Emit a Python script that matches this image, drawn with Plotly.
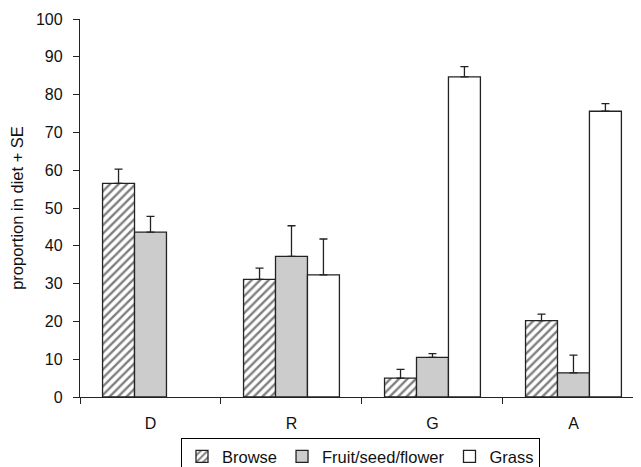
import plotly.graph_objects as go

categories = ["D", "R", "G", "A"]
browse = [56.5, 31.1, 5.0, 20.2]
browse_se = [3.8, 3.0, 2.3, 1.7]
fruit = [43.6, 37.2, 10.5, 6.4]
fruit_se = [4.2, 8.1, 1.0, 4.7]
grass = [None, 32.3, 84.7, 75.6]
grass_se = [None, 9.5, 2.7, 2.0]
y_ticks = list(range(0, 101, 10))

xpos = list(range(len(categories)))
line_col = "#222222"
font_fam = "Liberation Sans, Arial, Helvetica, sans-serif"

def err(vals):
    return dict(type="data", symmetric=False, array=vals,
                arrayminus=[0 if v is not None else None for v in vals],
                color=line_col, thickness=1.3, width=4)

fig = go.Figure()
fig.add_trace(go.Bar(
    name="Browse", x=xpos, y=browse, error_y=err(browse_se),
    marker=dict(color="white", line=dict(color=line_col, width=1.3),
                pattern=dict(shape="/", fgcolor="black", bgcolor="white",
                             size=6, solidity=0.4)),
))
fig.add_trace(go.Bar(
    name="Fruit/seed/flower", x=xpos, y=fruit, error_y=err(fruit_se),
    marker=dict(color="#cccccc", line=dict(color=line_col, width=1.3)),
))
fig.add_trace(go.Bar(
    name="Grass", x=xpos, y=grass, error_y=err(grass_se),
    marker=dict(color="white", line=dict(color=line_col, width=1.3)),
))

# page has an 8px body margin; figure is sized so the page is 641x467
fig.update_layout(
    width=633, height=459,
    margin=dict(l=72, r=0, t=11, b=70, autoexpand=False),
    paper_bgcolor="white", plot_bgcolor="white",
    font=dict(family=font_fam, size=16, color="#111111"),
    barmode="group", bargap=0.32, bargroupgap=0,
    showlegend=True,
    legend=dict(orientation="h", x=0.5, xanchor="center", y=-0.109, yanchor="top",
                bordercolor="black", borderwidth=1, bgcolor="white",
                font=dict(size=16.5), itemwidth=30, tracegroupgap=0),
    xaxis=dict(
        range=[-0.5, 3.479], tickmode="array", tickvals=xpos, ticktext=categories,
        ticks="", showline=True, linecolor=line_col, linewidth=1.3,
        showgrid=False, zeroline=False, tickfont=dict(size=16),
        ticklabelstandoff=12,
        minor=dict(tickmode="array", tickvals=[-0.5, 0.5, 1.5, 2.5],
                   ticks="outside", ticklen=6, tickcolor=line_col, tickwidth=1.3),
    ),
    yaxis=dict(
        range=[0, 100], tickmode="array", tickvals=y_ticks,
        ticks="outside", ticklen=6, tickcolor=line_col, tickwidth=1.3,
        showline=True, linecolor=line_col, linewidth=1.3,
        showgrid=False, zeroline=False, tickfont=dict(size=16),
        ticklabelstandoff=7,
        title=dict(text="proportion in diet + SE", font=dict(size=16.5), standoff=13),
    ),
)

fig.write_html("out.html")
